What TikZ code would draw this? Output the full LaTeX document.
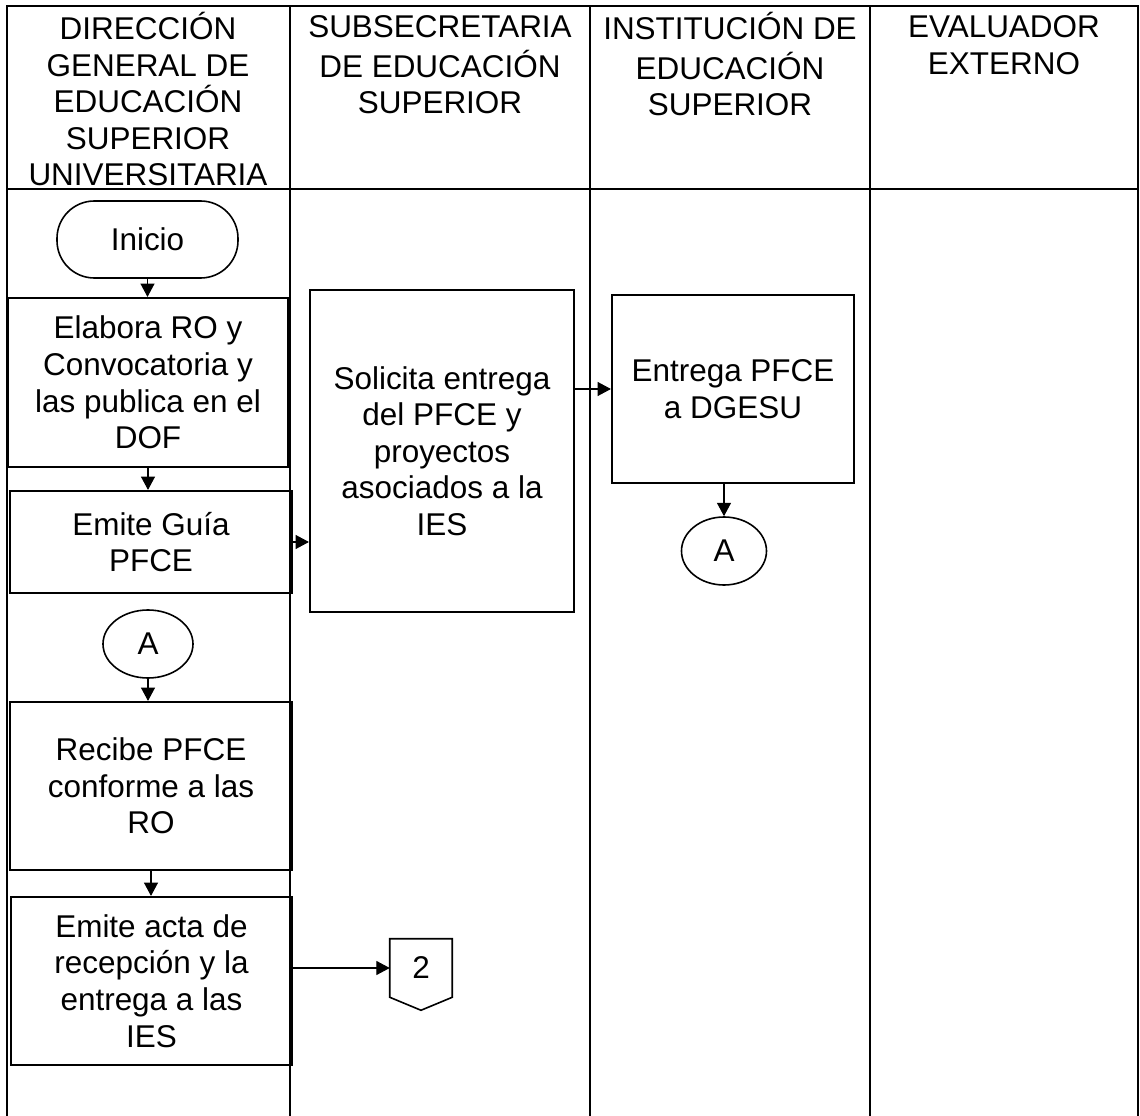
\documentclass[tikz,border=0pt]{standalone}
\usepackage{fontspec}
\setmainfont{Liberation Sans}
\usetikzlibrary{arrows.meta,calc,shapes.geometric}
\begin{document}
\begin{tikzpicture}[x=0.75pt,y=-0.75pt,
  every node/.style={font=\fontsize{23.6}{27.4}\selectfont, align=center, inner sep=0pt},
  lane/.style={line width=0.8pt},
  hdr/.style={anchor=north},
  proc/.style={draw, line width=1.6pt, rectangle},
  term/.style={draw, line width=1.2pt, rectangle, rounded corners=28pt},
  conn/.style={draw, ellipse, line width=1.2pt},
  flow/.style={line width=0.8pt, -{Triangle[length=10pt,width=10.5pt]}}]

\useasboundingbox (0,0) rectangle (1140,1116);

% swimlane frame
\draw[lane] (7,1116) -- (7,6) -- (1138,6) -- (1138,1116);
\draw[lane] (290,6) -- (290,1116);
\draw[lane] (590,6) -- (590,1116);
\draw[lane] (870,6) -- (870,1116);
\draw[lane] (7,189) -- (1138,189);

% headers
\node[hdr] (h1) at (148,12) {\strut DIRECCIÓN\\GENERAL DE\\EDUCACIÓN\\SUPERIOR\\UNIVERSITARIA\strut};
\node[hdr] (h2) at (440,12) {\strut SUBSECRETARIA\\DE EDUCACIÓN\\SUPERIOR\strut};
\node[hdr] (h3) at (730,12) {\strut INSTITUCIÓN DE\\EDUCACIÓN\\SUPERIOR\strut};
\node[hdr] (h4) at (1004,12) {\strut EVALUADOR\\EXTERNO\strut};

% shapes
\node[term, minimum width=135.75pt, minimum height=57.75pt] (inicio) at (147.5,239.5) {Inicio};
\node[proc, minimum width=210pt, minimum height=126.75pt] (elabora) at (148,382.5) {Elabora RO y\\Convocatoria y\\las publica en el\\DOF};
\node[proc, minimum width=211.5pt, minimum height=76.5pt] (guia) at (151,542) {Emite Guía\\PFCE};
\node[conn, minimum width=67.5pt, minimum height=51pt] (a1) at (148,644) {A};
\node[proc, minimum width=211.5pt, minimum height=126pt] (recibe) at (151,786) {Recibe PFCE\\conforme a las\\RO};
\node[proc, minimum width=210.75pt, minimum height=126pt] (acta) at (151.5,981) {Emite acta de\\recepción y la\\entrega a las\\IES};
\node[proc, minimum width=198pt, minimum height=241.5pt] (solicita) at (442,451) {Solicita entrega\\del PFCE y\\proyectos\\asociados a la\\IES};
\node[proc, minimum width=181.5pt, minimum height=141pt] (entrega) at (733,389) {Entrega PFCE\\a DGESU};
\node[conn, minimum width=63.75pt, minimum height=51pt] (a2) at (724,551) {A};
\node[minimum width=46.5pt, minimum height=43.5pt] (c2) at (421,968) {2};
\draw[line width=1.2pt] (c2.north west) -- (c2.north east) -- (c2.south east) -- ($(c2.south)+(0,13)$) -- (c2.south west) -- cycle;

% connectors
\draw[flow] (inicio.south) -- (inicio.south |- elabora.north);
\draw[flow] (elabora.south) -- (elabora.south |- guia.north);
\draw[flow] (a1.south) -- (a1.south |- recibe.north);
\draw[flow] (recibe.south) -- (recibe.south |- acta.north);
\draw[flow] (guia.east) -- (guia.east -| solicita.west);
\draw[flow] (solicita.east |- entrega.west) -- (entrega.west);
\draw[flow] (a2.north |- entrega.south) -- (a2.north);
\draw[flow] (c2.west -| acta.east) -- (c2.west);
\end{tikzpicture}
\end{document}
